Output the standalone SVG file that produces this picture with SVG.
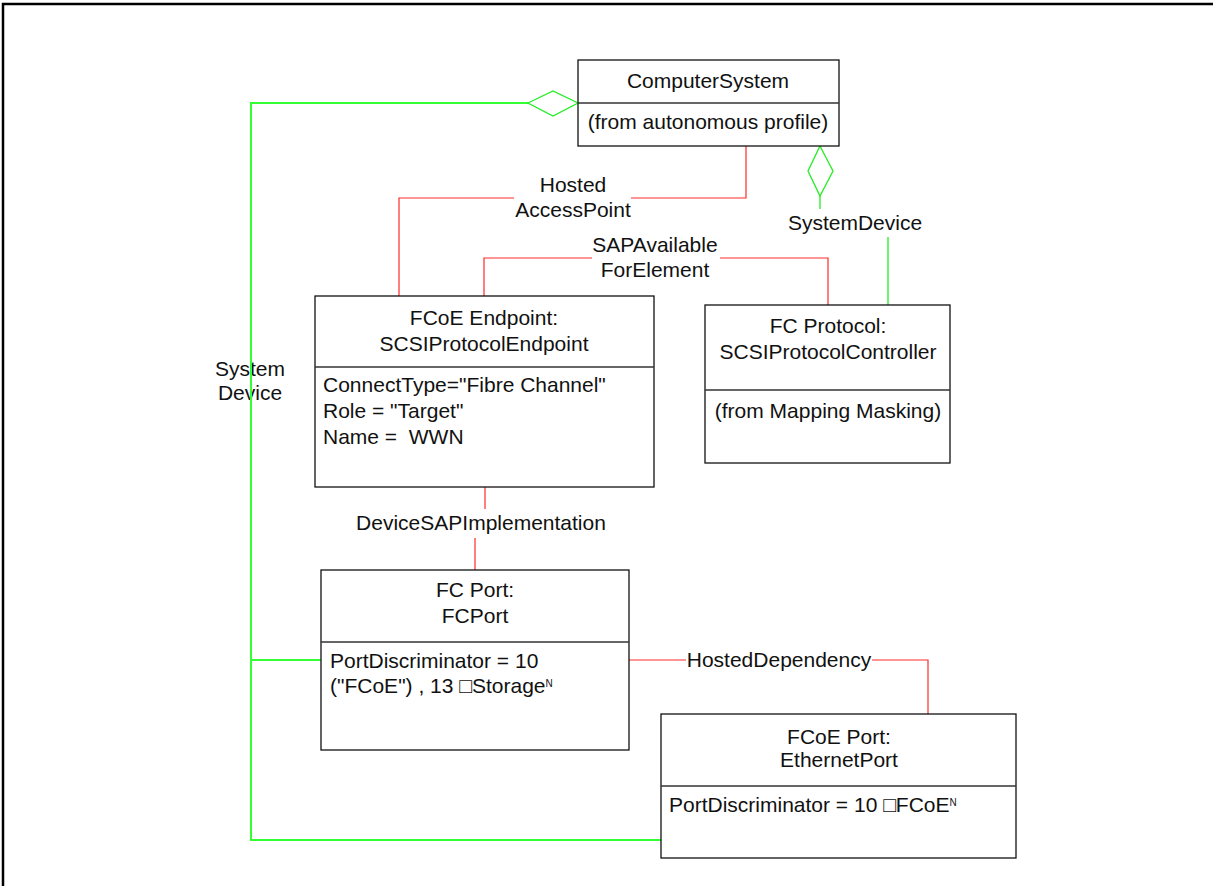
<svg xmlns="http://www.w3.org/2000/svg" width="1213" height="886" viewBox="0 0 1213 886">
<style>
text{font-family:"Liberation Sans",Arial,sans-serif;font-size:21px;fill:#111;white-space:pre}
.c{text-anchor:middle}
.box{fill:#fff;stroke:#111;stroke-width:1.3}
.div{stroke:#333;stroke-width:1.3}
.r{fill:none;stroke:#ff2a2a;stroke-width:1.2}
.g{fill:none;stroke:#22ee22;stroke-width:1.3}
.g2{fill:none;stroke:#33ff33;stroke-width:2}
.frame{stroke:#000;stroke-width:2.5;fill:none}
.sup{font-size:10px}
</style>
<rect width="1213" height="886" fill="#fff"/>
<path class="frame" d="M3,886 V4 H1213"/>
<g id="connectors">
  <text class="c" x="250" y="376">System</text>
  <text class="c" x="250" y="400">Device</text>
  <path class="g2" d="M528,103 H251 V840 H661"/>
  <path class="g2" d="M251,660 H321"/>
  <polygon class="g" points="528,103 553,91 578,103 553,116" style="fill:#fff"/>
  <polygon class="g" points="820,146 833,171 820,196 808,171" style="fill:#fff"/>
  <path class="g" d="M820,196 V209"/>
  <path class="g" d="M888,237 V305"/>
  <path class="r" d="M746,146 V198 H631 M514,198 H399 V296"/>
  <path class="r" d="M484,296 V258 H592 M720,258 H828 V305"/>
  <path class="r" d="M485,487 V509 M475,538 V570"/>
  <path class="r" d="M629,660 H686 M872,660 H928 V714"/>
  <text class="c" x="573" y="192">Hosted</text>
  <text class="c" x="573" y="217">AccessPoint</text>
  <text class="c" x="655" y="252">SAPAvailable</text>
  <text class="c" x="655" y="277">ForElement</text>
  <text class="c" x="855" y="230">SystemDevice</text>
  <text class="c" x="481" y="530">DeviceSAPImplementation</text>
  <text class="c" x="779" y="667">HostedDependency</text>
</g>
<g id="computer-system">
  <rect class="box" x="578" y="60" width="261" height="86"/>
  <line class="div" x1="578" y1="103" x2="839" y2="103"/>
  <text class="c" x="708" y="88">ComputerSystem</text>
  <text class="c" x="708" y="129">(from autonomous profile)</text>
</g>
<g id="fcoe-endpoint">
  <rect class="box" x="315" y="296" width="339" height="191"/>
  <line class="div" x1="315" y1="367" x2="654" y2="367"/>
  <text class="c" x="484" y="325">FCoE Endpoint:</text>
  <text class="c" x="484" y="351">SCSIProtocolEndpoint</text>
  <text x="323" y="392">ConnectType="Fibre Channel"</text>
  <text x="323" y="418">Role = "Target"</text>
  <text x="323" y="444">Name = &#160;WWN</text>
</g>
<g id="fc-protocol">
  <rect class="box" x="705" y="305" width="245" height="158"/>
  <line class="div" x1="705" y1="390" x2="950" y2="390"/>
  <text class="c" x="828" y="333">FC Protocol:</text>
  <text class="c" x="828" y="359">SCSIProtocolController</text>
  <text class="c" x="828" y="418">(from Mapping Masking)</text>
</g>
<g id="fc-port">
  <rect class="box" x="321" y="570" width="308" height="180"/>
  <line class="div" x1="321" y1="642" x2="629" y2="642"/>
  <text class="c" x="475" y="597">FC Port:</text>
  <text class="c" x="475" y="623">FCPort</text>
  <text x="330" y="668">PortDiscriminator = 10</text>
  <text x="330" y="693">("FCoE") , 13 □Storage<tspan class="sup" dy="-6">N</tspan></text>
</g>
<g id="fcoe-port">
  <rect class="box" x="661" y="714" width="355" height="144"/>
  <line class="div" x1="661" y1="786" x2="1016" y2="786"/>
  <text class="c" x="839" y="744">FCoE Port:</text>
  <text class="c" x="839" y="767">EthernetPort</text>
  <text x="669" y="812">PortDiscriminator = 10 □FCoE<tspan class="sup" dy="-6">N</tspan></text>
</g>
</svg>
